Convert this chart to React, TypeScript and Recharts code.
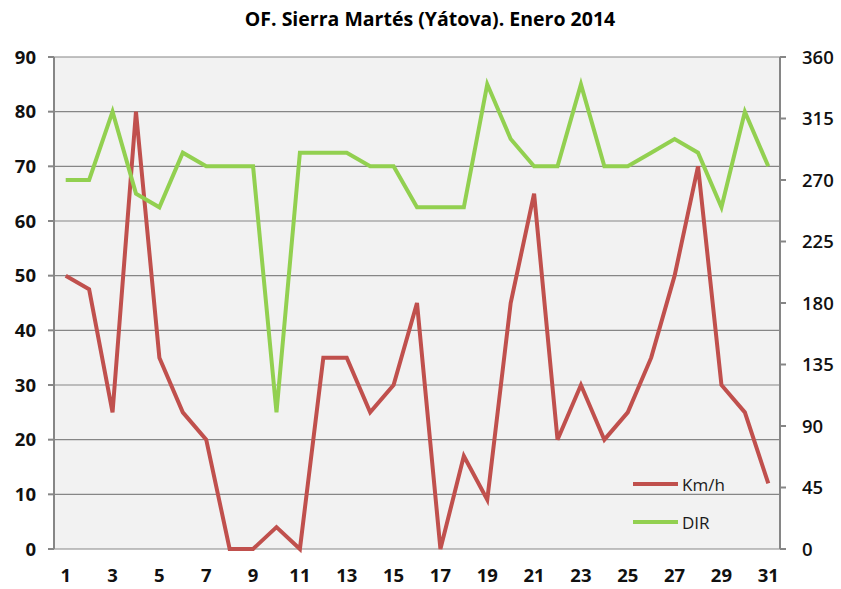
import React from 'react';
import { LineChart, Line, XAxis, YAxis, CartesianGrid } from 'recharts';

const DAYS = [1, 2, 3, 4, 5, 6, 7, 8, 9, 10, 11, 12, 13, 14, 15, 16, 17, 18, 19, 20, 21, 22, 23, 24, 25, 26, 27, 28, 29, 30, 31];
const KMH = [50, 47.5, 25, 80, 35, 25, 20, 0, 0, 4, 0, 35, 35, 25, 30, 45, 0, 17, 9, 45, 65, 20, 30, 20, 25, 35, 50, 70, 30, 25, 12];
const DIR = [270, 270, 320, 260, 250, 290, 280, 280, 280, 100, 290, 290, 290, 280, 280, 250, 250, 250, 340, 300, 280, 280, 340, 280, 280, 290, 300, 290, 250, 320, 280];

const X_LABELS = [1, 3, 5, 7, 9, 11, 13, 15, 17, 19, 21, 23, 25, 27, 29, 31];
const LEFT_TICKS = [0, 10, 20, 30, 40, 50, 60, 70, 80, 90];
const RIGHT_TICKS = [0, 45, 90, 135, 180, 225, 270, 315, 360];

const TITLE = 'OF. Sierra Martés (Yátova). Enero 2014';
const SERIES = [
  { key: 'kmh', name: 'Km/h', color: '#c0504d' },
  { key: 'dir', name: 'DIR', color: '#92d050' },
];

const data = DAYS.map((d, i) => ({ day: d, kmh: KMH[i], dir: DIR[i] }));
// tick marks sit between the categories, like Excel
const boundaries = [0, ...DAYS].map((d) => d + 0.5);

const FONT = '"Open Sans", "Noto Sans", sans-serif';
const AXIS = '#868686';
const TICK_STYLE = { fill: '#111', fontFamily: FONT, fontWeight: 700, fontSize: 18.5 };

export default function App() {
  return (
    <div style={{ position: 'absolute', left: 0, top: 0, width: 841, height: 589, background: '#fff' }}>
      <div
        style={{
          position: 'absolute',
          left: 0,
          top: 5,
          width: 860,
          textAlign: 'center',
          fontFamily: FONT,
          fontWeight: 700,
          fontSize: 19.5,
          color: '#000',
        }}
      >
        {TITLE}
      </div>
      <LineChart width={841} height={589} data={data} margin={{ top: 57, right: 0, bottom: 0, left: 0 }}>
        <CartesianGrid vertical={false} stroke={AXIS} strokeWidth={1.2} fill="#f2f2f2" fillOpacity={1} />
        <XAxis
          dataKey="day"
          type="number"
          domain={[0.5, 31.5]}
          ticks={boundaries}
          interval={0}
          height={0}
          axisLine={{ stroke: AXIS, strokeWidth: 2 }}
          tickLine={{ stroke: AXIS, strokeWidth: 2 }}
          tickSize={6}
          tick={() => <g />}
        />
        <XAxis
          xAxisId="labels"
          dataKey="day"
          type="number"
          domain={[0.5, 31.5]}
          ticks={X_LABELS}
          interval={0}
          height={40}
          axisLine={false}
          tickLine={false}
          tickMargin={14}
          tick={TICK_STYLE}
        />
        <YAxis
          domain={[0, 90]}
          ticks={LEFT_TICKS}
          interval={0}
          width={54}
          axisLine={{ stroke: AXIS, strokeWidth: 2 }}
          tickLine={{ stroke: AXIS, strokeWidth: 2 }}
          tickSize={6}
          tickMargin={12}
          tick={TICK_STYLE}
        />
        <YAxis
          yAxisId="right"
          orientation="right"
          domain={[0, 360]}
          ticks={RIGHT_TICKS}
          interval={0}
          width={61}
          axisLine={{ stroke: AXIS, strokeWidth: 2 }}
          tickLine={{ stroke: AXIS, strokeWidth: 2 }}
          tickSize={6}
          tickMargin={16}
          tick={{ ...TICK_STYLE, fontWeight: 600 }}
        />
        <Line type="linear" dataKey="kmh" name="Km/h" stroke="#c0504d" strokeWidth={4} dot={false} isAnimationActive={false} />
        <Line
          type="linear"
          dataKey="dir"
          name="DIR"
          yAxisId="right"
          stroke="#92d050"
          strokeWidth={4}
          dot={false}
          isAnimationActive={false}
        />
      </LineChart>
      {/* legend inside the plot, bottom right */}
      <div style={{ position: 'absolute', left: 630, top: 465, fontFamily: FONT, fontSize: 17, color: '#1a1a1a' }}>
        {SERIES.map((s) => (
          <div key={s.key} style={{ display: 'flex', alignItems: 'center', height: 38 }}>
            <svg width={52} height={10}>
              <line x1={3} y1={5} x2={48} y2={5} stroke={s.color} strokeWidth={4} />
            </svg>
            <span>{s.name}</span>
          </div>
        ))}
      </div>
    </div>
  );
}
